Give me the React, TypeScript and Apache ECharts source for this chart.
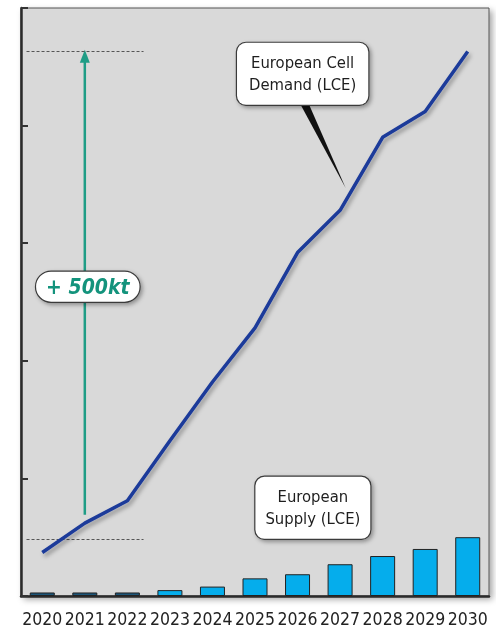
import React, { useEffect, useRef } from "react";
import * as echarts from "echarts";

const years = ["2020", "2021", "2022", "2023", "2024", "2025", "2026", "2027", "2028", "2029", "2030"];
const demand = [37, 62, 81, 132, 182, 228, 292, 328, 390, 412, 463];
const supply = [3, 3, 3, 5, 8, 15, 18.5, 27, 34, 40, 50];
const darkBarCount = 3;
const dashedLevels = [48.5, 463];
const dashedSpan = [-0.37, 2.38];
const arrowX = 1;
const arrowRange = [69, 459];
const gapLabel = { x: 1.07, y: 263, text: "+ 500kt" };
const demandBox = { x: 6.12, y: 444, text: "European Cell\nDemand (LCE)" };
const supplyBox = { x: 6.36, y: 75, text: "European\nSupply (LCE)" };
const pointer = [[6.07, 418], [6.27, 418], [7.13, 347]];

const FONT = "'DejaVu Sans Condensed', 'Liberation Sans Narrow', sans-serif";

export default function App() {
  const ref = useRef<HTMLDivElement>(null);
  useEffect(() => {
    if (!ref.current) return;
    const chart = echarts.init(ref.current, undefined, { renderer: "svg" });
    const boxLabel = (txt: string, pad: number[]) => ({
      show: true,
      position: "inside",
      formatter: txt,
      color: "#1e1e1e",
      fontFamily: FONT,
      fontSize: 16.5,
      lineHeight: 22,
      align: "center",
      backgroundColor: "#ffffff",
      borderColor: "#3a3a3a",
      borderWidth: 1.2,
      borderRadius: 9,
      padding: pad,
      shadowColor: "rgba(0,0,0,0.35)",
      shadowBlur: 4,
      shadowOffsetX: 2,
      shadowOffsetY: 2,
    });
    chart.setOption({
      animation: false,
      grid: {
        left: 21,
        right: 7,
        top: 8,
        bottom: 35,
        show: true,
        backgroundColor: "#d9d9d9",
        borderColor: "#555",
        borderWidth: 1,
        shadowColor: "rgba(0,0,0,0.35)",
        shadowBlur: 6,
        shadowOffsetX: 3,
        shadowOffsetY: 3,
      },
      xAxis: [
        {
          type: "category",
          data: years,
          axisLine: { lineStyle: { color: "#2b2b2b", width: 2.5 } },
          axisTick: { show: false },
          axisLabel: { color: "#222", fontFamily: FONT, fontSize: 17.5, margin: 14, interval: 0 },
        },
        { type: "value", min: -0.5, max: 10.5, show: false },
      ],
      yAxis: {
        type: "value",
        min: 0,
        max: 500,
        interval: 100,
        axisLine: { show: true, onZero: false, lineStyle: { color: "#2b2b2b", width: 2.5 } },
        axisTick: { show: true, inside: true, length: 7, lineStyle: { color: "#333", width: 2 } },
        axisLabel: { show: false },
        splitLine: { show: false },
      },
      series: [
        {
          type: "bar",
          data: supply.map((v, i) => ({
            value: v,
            itemStyle: { color: i < darkBarCount ? "#1d5679" : "#05adec" },
          })),
          barWidth: 25,
          itemStyle: { borderColor: "#222", borderWidth: 1 },
          z: 2,
        },
        {
          type: "line",
          xAxisIndex: 1,
          data: [[NaN, NaN]],
          silent: true,
          showSymbol: false,
          lineStyle: { width: 0 },
          markLine: {
            silent: true,
            symbol: "none",
            label: { show: false },
            lineStyle: { color: "#555", type: [3, 2], width: 1.2 },
            data: dashedLevels.map((v) => [
              { coord: [dashedSpan[0], v] },
              { coord: [dashedSpan[1], v] },
            ]),
          },
          z: 3,
        },
        {
          type: "line",
          xAxisIndex: 1,
          data: [
            { value: [arrowX, arrowRange[0]], symbol: "none" },
            { value: [arrowX, arrowRange[1]], symbol: "triangle", symbolSize: [10, 13] },
          ],
          lineStyle: { color: "#1f9d86", width: 2.5 },
          itemStyle: { color: "#1f9d86" },
          z: 3,
        },
        {
          type: "custom",
          xAxisIndex: 1,
          data: [0],
          renderItem: (params: any, api: any) => ({
            type: "polygon",
            shape: { points: pointer.map((p) => api.coord(p)) },
            style: { fill: "#111" },
          }),
          z: 4,
        },
        {
          type: "line",
          data: demand,
          symbol: "none",
          lineStyle: {
            color: "#1b3a9a",
            width: 3.5,
            shadowColor: "rgba(0,0,0,0.35)",
            shadowBlur: 4,
            shadowOffsetX: 2,
            shadowOffsetY: 3,
          },
          z: 5,
        },
        {
          type: "scatter",
          xAxisIndex: 1,
          symbolSize: 1,
          itemStyle: { color: "rgba(0,0,0,0)", opacity: 1 },
          data: [
            { value: [demandBox.x, demandBox.y], label: boxLabel(demandBox.text, [9, 12]) },
            { value: [supplyBox.x, supplyBox.y], label: boxLabel(supplyBox.text, [9, 10]) },
            {
              value: [gapLabel.x, gapLabel.y],
              label: {
                ...boxLabel(gapLabel.text, [4, 10]),
                color: "#13937c",
                fontWeight: "bold",
                fontStyle: "italic",
                fontSize: 21,
                lineHeight: 22,
                borderRadius: 15,
              },
            },
          ],
          z: 6,
        },
      ],
    });
    return () => chart.dispose();
  }, []);
  return <div ref={ref} style={{ position: "fixed", left: 0, top: 0, width: 496, height: 631 }} />;
}
